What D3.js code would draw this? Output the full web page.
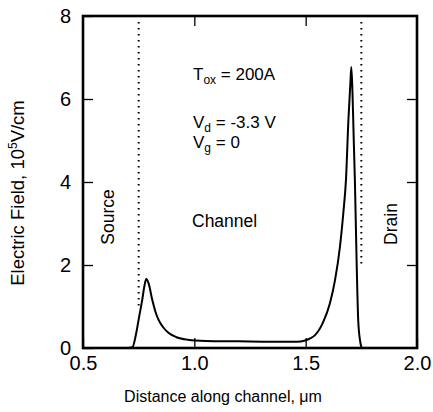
<!DOCTYPE html>
<html>
<head>
<meta charset="UTF-8">
<title>Electric field along channel</title>
<script src="https://cdn.jsdelivr.net/npm/d3@7"></script>
<style>
  body { margin: 0; background: #fff; }
  svg text { font-family: "Liberation Sans", Arial, sans-serif; fill: #000; }
</style>
</head>
<body>
<div id="chart"></div>
<script>
// distance along channel (um) and field (1e5 V/cm)
var distance = [0.50, 0.60, 0.70, 0.722, 0.739, 0.752, 0.766, 0.776, 0.784, 0.795, 0.811, 0.825, 0.84, 0.86, 0.885, 0.92, 0.97, 1.05, 1.20, 1.35, 1.46, 1.497,
                1.52, 1.542, 1.579, 1.609, 1.632, 1.654, 1.669, 1.681, 1.692, 1.700, 1.705, 1.710, 1.716, 1.721, 1.729, 1.736, 1.744, 1.751, 1.755, 1.80, 2.00];
var field    = [0,    0,    0,    0.02,  0.36,  0.75,  1.16,  1.5,   1.66,  1.55,  1.16,  0.88,  0.67,  0.5,   0.36,  0.26,  0.2,   0.17,  0.16,  0.15,  0.15,  0.18,
                0.23, 0.31, 0.63, 1.08, 1.64, 2.44, 3.25, 4.05, 5.5, 6.3, 6.77, 6.2, 5.0, 4.05, 2.04, 0.67, 0.19, 0.02, 0, 0, 0];

var xTicks = [0.5, 1.0, 1.5, 2.0];
var yTicks = [0, 2, 4, 6, 8];

// dotted junction markers: [x, yFrom, yTo]
var sourceEdge = [0.75, 8, 1.0];
var drainEdge = [1.75, 8, 2.0];

width = 433
height = 412
var margin = { left: 83, right: 16, top: 16, bottom: 64 };

var x = d3.scaleLinear().domain([0.5, 2.0]).range([margin.left, width - margin.right]);
var y = d3.scaleLinear().domain([0, 8]).range([height - margin.bottom, margin.top]);

var svg = d3.select("#chart").append("svg")
    .attr("width", width)
    .attr("height", height);

// 刻度 (inward ticks)
var fmtX = d3.format(".1f");
svg.append("g")
    .attr("transform", "translate(0," + y(0) + ")")
    .call(d3.axisBottom(x).tickValues(xTicks).tickSize(-10).tickPadding(8).tickFormat(fmtX))
    .call(function (g) { g.select(".domain").remove(); });
svg.append("g")
    .attr("transform", "translate(0," + y(8) + ")")
    .call(d3.axisTop(x).tickValues([1.0, 1.5]).tickSize(-10).tickFormat(""))
    .call(function (g) { g.select(".domain").remove(); });
svg.append("g")
    .attr("transform", "translate(" + x(0.5) + ",0)")
    .call(d3.axisLeft(y).tickValues(yTicks).tickSize(-10).tickPadding(12))
    .call(function (g) { g.select(".domain").remove(); });
svg.append("g")
    .attr("transform", "translate(" + x(2.0) + ",0)")
    .call(d3.axisRight(y).tickValues([2, 4, 6]).tickSize(-10).tickFormat(""))
    .call(function (g) { g.select(".domain").remove(); });

svg.selectAll(".tick line").attr("stroke", "#000").attr("stroke-width", 1.3);
svg.selectAll(".tick text").attr("font-size", "20px").attr("fill", "#000");

// frame
svg.append("rect")
    .attr("x", x(0.5))
    .attr("y", y(8))
    .attr("width", x(2.0) - x(0.5))
    .attr("height", y(0) - y(8))
    .attr("fill", "none")
    .attr("stroke", "#000")
    .attr("stroke-width", 2.6);

// dotted lines
[sourceEdge, drainEdge].forEach(function (d) {
    svg.append("line")
        .attr("x1", x(d[0])).attr("x2", x(d[0]))
        .attr("y1", y(d[1]) + 6).attr("y2", y(d[2]))
        .attr("stroke", "#000")
        .attr("stroke-width", 2)
        .attr("stroke-dasharray", "1.6,4.4");
});

// curve
var pts = distance.map(function (d, i) { return [d, field[i]]; });
var line = d3.line()
    .x(function (d) { return x(d[0]); })
    .y(function (d) { return y(d[1]); })
    .curve(d3.curveMonotoneX);
svg.append("path")
    .datum(pts)
    .attr("d", line)
    .attr("fill", "none")
    .attr("stroke", "#000")
    .attr("stroke-width", 2)
    .attr("stroke-linejoin", "round");

// axis titles
svg.append("text")
    .attr("x", 223)
    .attr("y", 402)
    .attr("text-anchor", "middle")
    .attr("font-size", "16px")
    .text("Distance along channel, μm");

var yl = svg.append("text")
    .attr("transform", "translate(24," + 193 + ") rotate(-90)")
    .attr("text-anchor", "middle")
    .attr("font-size", "18.5px");
yl.append("tspan").text("Electric Field, 10");
yl.append("tspan").attr("font-size", "12px").attr("dy", -7).text("5");
yl.append("tspan").attr("dy", 7).text("V/cm");

// annotations
svg.append("text")
    .attr("transform", "translate(114,217) rotate(-90)")
    .attr("text-anchor", "middle")
    .attr("font-size", "17.5px")
    .text("Source");
svg.append("text")
    .attr("transform", "translate(397,224) rotate(-90)")
    .attr("text-anchor", "middle")
    .attr("font-size", "17.5px")
    .text("Drain");
svg.append("text")
    .attr("x", 192).attr("y", 227)
    .attr("font-size", "17.5px")
    .text("Channel");

function sub(main, s, rest, xx, yy) {
    var t = svg.append("text").attr("x", xx).attr("y", yy).attr("font-size", "17px");
    t.append("tspan").text(main);
    t.append("tspan").attr("font-size", "12px").attr("dy", 4).text(s);
    t.append("tspan").attr("dy", -4).text(rest);
}
sub("T", "ox", " = 200A", 193, 80);
sub("V", "d", " = -3.3 V", 193, 128);
sub("V", "g", " = 0", 193, 148);
</script>
</body>
</html>
